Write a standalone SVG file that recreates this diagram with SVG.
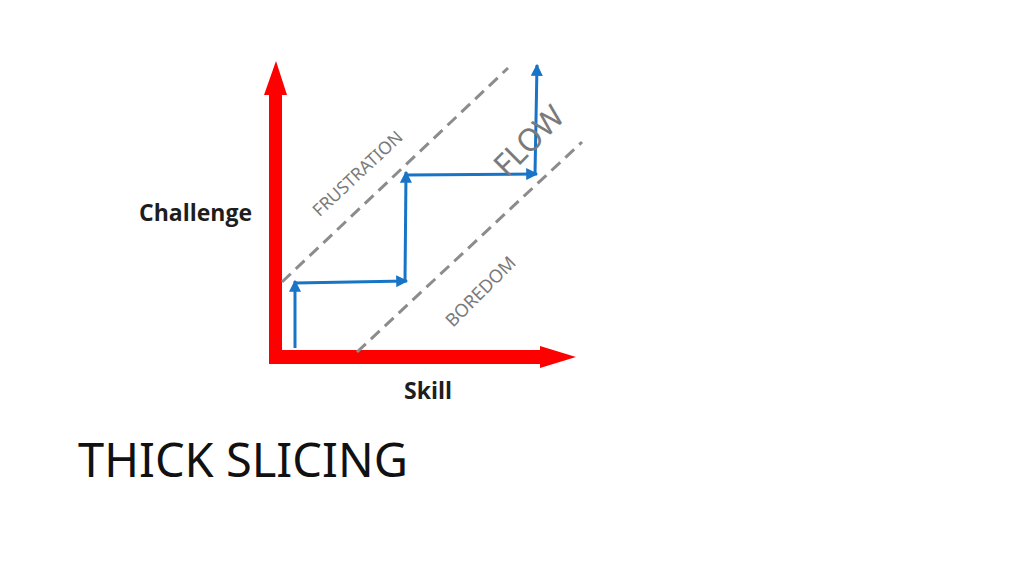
<svg xmlns="http://www.w3.org/2000/svg" width="1024" height="575" viewBox="0 0 1024 575">
<defs>
<style>
.axis{fill:#ff0000;}
.step{fill:none;stroke:#1874c6;stroke-width:3;}
.dash{fill:none;stroke:#8c8c8c;stroke-width:3;stroke-dasharray:12 7;}
.zone{font-family:"Noto Sans","Open Sans",sans-serif;fill:#7a7a7a;}
.lbl{font-family:"Open Sans","Liberation Sans",sans-serif;font-weight:bold;font-size:23px;fill:#1e1e1e;}
</style>
<marker id="bh" viewBox="0 0 10 10" refX="9" refY="5" markerWidth="4.5" markerHeight="4" orient="auto" markerUnits="strokeWidth">
<path d="M0,0 L10,5 L0,10 Z" fill="#1874c6"/>
</marker>
</defs>
<rect width="1024" height="575" fill="#fff"/>
<g id="axes">
<path class="axis" d="M269,95 L264,95 L276,61 L287,95 L282,95 L282,350 L540,350 L540,346 L576,357 L540,368 L540,364 L269,364 Z"/>
</g>
<g id="zone-lines">
<line class="dash" x1="282" y1="282" x2="508" y2="68"/>
<line class="dash" x1="357" y1="352" x2="582" y2="142"/>
</g>
<g id="connectors">
<line class="step" x1="295" y1="348" x2="295" y2="281" marker-end="url(#bh)"/>
<line class="step" x1="295" y1="283" x2="407" y2="281" marker-end="url(#bh)"/>
<line class="step" x1="405" y1="282" x2="406" y2="172" marker-end="url(#bh)"/>
<line class="step" x1="406" y1="175" x2="537" y2="174" marker-end="url(#bh)"/>
<line class="step" x1="535" y1="174" x2="537" y2="65" marker-end="url(#bh)"/>
</g>
<g id="label-frustration"><text class="zone" font-size="17.5" transform="translate(357,173) rotate(-43)" text-anchor="middle" dominant-baseline="central">FRUSTRATION</text></g>
<g id="label-boredom"><text class="zone" font-size="18" transform="translate(480,291) rotate(-45)" text-anchor="middle" dominant-baseline="central">BOREDOM</text></g>
<g id="label-flow"><text class="zone" font-size="31" transform="translate(528,140) rotate(-45)" text-anchor="middle" dominant-baseline="central">FLOW</text></g>
<g id="label-challenge"><text class="lbl" x="139" y="221">Challenge</text></g>
<g id="label-skill"><text class="lbl" x="404" y="399">Skill</text></g>
<g id="title"><text x="78" y="477" font-family="'Noto Sans','Open Sans',sans-serif" font-size="47" fill="#111">THICK SLICING</text></g>
</svg>
